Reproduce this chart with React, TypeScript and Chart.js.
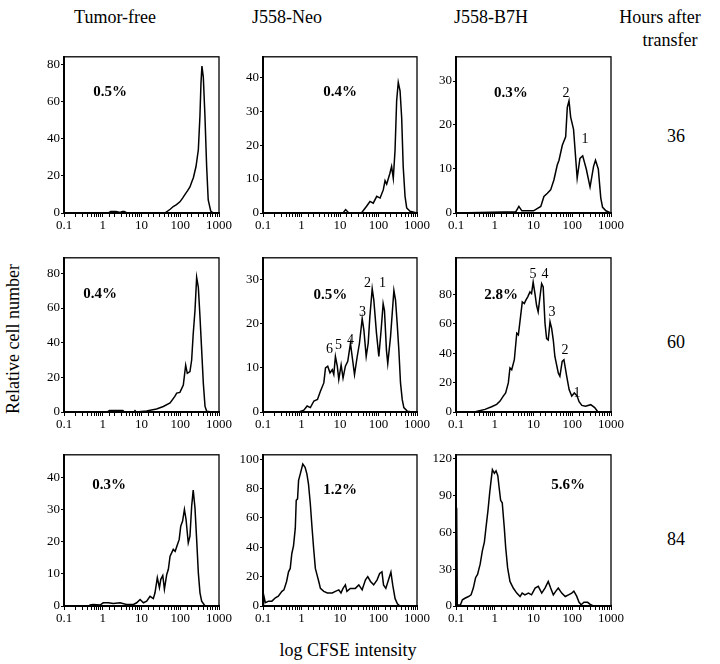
import React, { useEffect, useRef } from 'react';
import { Chart, registerables } from 'chart.js';

Chart.register(...registerables);

const FONT = '"Liberation Serif", "Times New Roman", serif';
Chart.defaults.font.family = FONT;

const columnTitles = ['Tumor-free', 'J558-Neo', 'J558-B7H'];
const hourLabels = ['36', '60', '84'];
const hoursTitle = ['Hours after', 'transfer'];
const xTickLabels = ['0.1', '1', '10', '100', '1000'];
const yTitle = 'Relative cell number';
const xTitle = 'log CFSE intensity';

// Row 1 (36 h)
const tumorFree36X = [0.1, 1.4, 1.6, 2.2, 2.8, 3.2, 3.6, 4.2, 40, 55, 66, 80, 98, 115, 133, 155, 178, 200, 218, 255, 293, 322, 343, 363, 394, 434, 480, 527, 612, 710, 1000];
const tumorFree36Y = [0, 0, 0.8, 0.8, 0.3, 0.8, 0.8, 0, 0, 2, 3.5, 4.5, 6, 8, 10, 12, 14, 17, 19, 25, 34, 52, 70, 79, 73, 52, 25, 7, 1, 0, 0];

const neo36X = [0.1, 12, 14, 17, 36, 49, 60, 73, 90, 110, 133, 148, 163, 198, 219, 242, 269, 296, 326, 363, 400, 438, 489, 540, 660, 1000];
const neo36Y = [0, 0, 1, 0, 0, 2, 3.4, 2.9, 4.9, 4.4, 6.8, 9.5, 8.5, 11.7, 13.7, 10.2, 18.5, 33, 38.5, 36, 28, 13.7, 4.9, 1.5, 0.5, 0];

const b7h36X = [0.1, 3.5, 4.2, 5, 10, 15.4, 18.6, 22.8, 27.7, 33.6, 41, 45.5, 55.4, 67.6, 74.5, 82.5, 91, 108, 134, 158, 186, 230, 288, 355, 398, 470, 545, 607, 740, 1000];
const b7h36Y = [0, 0.3, 1.5, 0.5, 0.5, 1.5, 3.75, 4.5, 5.25, 7.5, 10.9, 12, 15.4, 17.3, 24, 25.5, 21.8, 19, 7.9, 12.4, 13, 10, 5.9, 10.6, 12, 10, 3.4, 1.3, 0.5, 0];

// Row 2 (60 h)
const tumorFree60X = [0.1, 1.3, 1.5, 3.3, 3.6, 6.4, 6.8, 7.3, 13.5, 24.5, 36.6, 54.6, 72.5, 81, 98, 120, 138, 152, 178, 197, 216, 240, 265, 293, 323, 357, 394, 436, 482, 645, 1000];
const tumorFree60Y = [0, 0, 0.8, 0.8, 0, 0, 0.8, 0, 0.6, 1.7, 3.2, 5.2, 9, 10.9, 11.3, 15.6, 27, 22.3, 23.3, 30, 45, 58.6, 77.7, 72, 55, 35.7, 16.6, 3.2, 0.4, 0, 0];

const neo60X = [0.1, 0.85, 1.15, 1.4, 1.7, 2.1, 2.6, 3.1, 3.8, 4.2, 4.8, 5.5, 6.3, 6.9, 7.6, 8.5, 9.3, 10.7, 12, 13.8, 15.9, 18.7, 20.7, 23.8, 28, 32, 37.7, 41.7, 47.9, 54, 59.6, 68.6, 75.6, 88.6, 102, 117, 132, 143, 161, 174, 205, 251, 277, 306, 338, 373, 413, 455, 558, 755, 1000];
const neo60Y = [0, 0, 0.4, 1.35, 1, 2.5, 2.85, 4.7, 6.6, 10, 10.4, 8.9, 9.6, 8.5, 12.6, 10.4, 7.4, 10.7, 7.7, 10.4, 11.5, 15.6, 12.6, 8.5, 12.6, 15.6, 21.2, 18.6, 12.6, 15.6, 21.6, 28, 25.4, 17.9, 12.6, 18.6, 24.6, 23, 14, 11, 17, 27.6, 25.4, 20, 14, 6.6, 2.85, 1, 0.2, 0, 0];

const b7h60X = [0.1, 0.3, 0.38, 0.56, 0.83, 1.12, 1.37, 1.66, 1.91, 2.24, 2.47, 2.74, 3.2, 3.7, 4.07, 4.47, 5.14, 5.8, 6.3, 7.1, 8.1, 8.9, 9.8, 10.9, 12, 13.2, 14.7, 16.2, 17.8, 19.8, 21.8, 24, 26.7, 29.4, 32.4, 35.6, 43.6, 48, 55, 61, 72, 83, 97, 113, 133, 150, 177, 220, 300, 380, 460, 1000];
const b7h60Y = [0, 0, 0.7, 1.8, 3.6, 5.2, 7.4, 10.8, 13, 19.8, 30, 28.8, 35.6, 53.6, 52.5, 61.5, 75, 73.9, 76, 78.4, 81.8, 80.6, 88.5, 80.6, 72.7, 68.2, 78.4, 87.4, 85.1, 60.4, 50, 49, 61.5, 57, 49, 37.8, 26.6, 24.3, 34.5, 35.6, 24.3, 15.3, 10.8, 13, 11, 7, 4.5, 4, 5, 3, 0, 0];

// Row 3 (84 h)
const tumorFree84X = [0.1, 0.45, 0.47, 0.57, 0.85, 1.03, 1.39, 1.88, 2.8, 4.1, 6.2, 7.5, 9.2, 11.2, 13.6, 16.6, 20.2, 22.3, 25.6, 29, 31.5, 35.4, 39, 44.8, 49.3, 54.6, 60, 66, 74, 83, 94, 103, 115, 128, 141, 161, 178, 197, 216, 240, 265, 293, 323, 357, 436, 1000];
const tumorFree84Y = [0, 0, 0.3, 0.5, 0.3, 1, 1, 0.8, 1, 0.5, 0.5, 1, 2, 1, 1.5, 3, 2.3, 4.1, 8.8, 5.7, 8.3, 9.5, 5.2, 9.8, 11.4, 15.5, 16.5, 17.6, 17, 18.8, 20.7, 24.8, 26.4, 30, 26.9, 19.6, 21.7, 31, 36, 30.5, 20.7, 10.3, 4.1, 1.5, 0, 0];

const neo84X = [0.103, 0.103, 0.115, 0.14, 0.17, 0.21, 0.25, 0.31, 0.35, 0.41, 0.46, 0.51, 0.56, 0.62, 0.69, 0.73, 0.79, 0.84, 0.93, 1.08, 1.24, 1.38, 1.52, 1.69, 1.87, 2.07, 2.29, 2.54, 2.81, 3.1, 3.8, 4.7, 6.3, 7.6, 9.3, 10.6, 12, 13.8, 15.1, 18.5, 25, 30.8, 37.6, 45.9, 52.6, 62, 75, 92, 107, 123, 135, 155, 183, 210, 235, 270, 310, 360, 1000];
const neo84Y = [0, 8, 2.2, 3.3, 3.3, 5.6, 6.7, 10, 11, 16.7, 23.3, 25.6, 35.6, 41, 53, 72, 73, 85.6, 90, 96.7, 94.4, 90, 83, 70, 54, 39, 25.6, 21, 16.7, 12, 10, 8.9, 8.9, 10, 11, 8.9, 12, 14.4, 10, 12, 12, 14.4, 11, 17.8, 20, 16.7, 14.4, 17.8, 22.2, 23.3, 14.4, 12, 18, 23, 14, 5, 1.5, 0, 0];

const b7h84X = [0.104, 0.104, 0.108, 0.13, 0.146, 0.17, 0.21, 0.245, 0.28, 0.32, 0.36, 0.42, 0.48, 0.54, 0.59, 0.67, 0.74, 0.81, 0.87, 0.98, 1.08, 1.2, 1.29, 1.42, 1.56, 1.76, 1.91, 2.15, 2.47, 3.0, 3.7, 4.5, 5.1, 6, 7.4, 8.9, 11, 13.3, 16.3, 19.8, 24, 27.7, 32.5, 37.4, 43.6, 53.5, 66, 80, 97, 110, 130, 150, 170, 200, 250, 300, 350, 1000];
const b7h84Y = [0, 80, 0.8, 0.8, 5, 6.3, 7.7, 9.1, 14.6, 23, 25.7, 34, 45, 52, 63, 78, 92, 103, 111, 108, 110, 106, 97, 86, 84, 64, 48, 31, 20, 14.6, 10.5, 7.7, 10.5, 9.1, 10.5, 9.1, 14.6, 16, 10.5, 14.6, 20, 14.6, 9.1, 11.9, 14.6, 10.5, 7.7, 9.1, 10.5, 12, 8, 3, 1, 3, 3, 1, 0, 0];

type Note = { text: string; x: number; y: number; bold?: boolean };
type PanelDef = {
  row: number; col: number; xs: number[]; ys: number[];
  yMax: number; step: number; labelMax: number; notes: Note[];
};

const panels: PanelDef[] = [
  { row: 0, col: 0, xs: tumorFree36X, ys: tumorFree36Y, yMax: 84, step: 20, labelMax: 80,
    notes: [{ text: '0.5%', x: 1.54, y: 65, bold: true }] },
  { row: 0, col: 1, xs: neo36X, ys: neo36Y, yMax: 46, step: 10, labelMax: 40,
    notes: [{ text: '0.4%', x: 10, y: 35.6, bold: true }] },
  { row: 0, col: 2, xs: b7h36X, ys: b7h36Y, yMax: 35.5, step: 10, labelMax: 30,
    notes: [{ text: '0.3%', x: 2.6, y: 27.3, bold: true }, { text: '2', x: 69, y: 27.3 }, { text: '1', x: 214, y: 16.7 }] },
  { row: 1, col: 0, xs: tumorFree60X, ys: tumorFree60Y, yMax: 89, step: 20, labelMax: 80,
    notes: [{ text: '0.4%', x: 0.85, y: 67.8, bold: true }] },
  { row: 1, col: 1, xs: neo60X, ys: neo60Y, yMax: 35, step: 10, labelMax: 30,
    notes: [
      { text: '0.5%', x: 5.6, y: 26.6, bold: true },
      { text: '6', x: 5.3, y: 14.3 }, { text: '5', x: 9.1, y: 15.2 }, { text: '4', x: 18.7, y: 16.3 },
      { text: '3', x: 38.4, y: 22.6 }, { text: '2', x: 51.6, y: 29.3 }, { text: '1', x: 127, y: 29.3 },
    ] },
  { row: 1, col: 2, xs: b7h60X, ys: b7h60Y, yMax: 105, step: 20, labelMax: 80,
    notes: [
      { text: '2.8%', x: 1.45, y: 79.7, bold: true },
      { text: '5', x: 9.7, y: 94 }, { text: '4', x: 19.8, y: 94 }, { text: '3', x: 30, y: 67.6 },
      { text: '2', x: 65, y: 41.9 }, { text: '1', x: 133, y: 12.8 },
    ] },
  { row: 2, col: 0, xs: tumorFree84X, ys: tumorFree84Y, yMax: 47, step: 10, labelMax: 40,
    notes: [{ text: '0.3%', x: 1.45, y: 37.5, bold: true }] },
  { row: 2, col: 1, xs: neo84X, ys: neo84Y, yMax: 103, step: 20, labelMax: 100,
    notes: [{ text: '1.2%', x: 10, y: 79, bold: true }] },
  { row: 2, col: 2, xs: b7h84X, ys: b7h84Y, yMax: 123, step: 30, labelMax: 120,
    notes: [{ text: '5.6%', x: 78, y: 98, bold: true }] },
];

const colLeft = [64, 263, 456];
const colWidth = [155, 154, 155];
const rowTop = [56, 257, 454];
const rowHeight = [157, 155, 152];
const PAD_L = 40;
const PAD_R = 18;
const PAD_T = 8;
const PAD_B = 26;

const framePlugin = {
  id: 'frame',
  afterDraw(chart: any) {
    const { ctx, chartArea } = chart;
    ctx.save();
    ctx.strokeStyle = '#000';
    ctx.lineWidth = 1.3;
    ctx.strokeRect(chartArea.left, chartArea.top, chartArea.right - chartArea.left, chartArea.bottom - chartArea.top);
    ctx.restore();
  },
};

const notesPlugin = {
  id: 'notes',
  afterDatasetsDraw(chart: any, _args: any, opts: any) {
    const { ctx } = chart;
    const xs = chart.scales.x;
    const ys = chart.scales.y;
    (opts.items || []).forEach((n: Note) => {
      ctx.save();
      ctx.font = n.bold ? `bold 15px ${FONT}` : `14px ${FONT}`;
      ctx.fillStyle = '#000';
      ctx.textAlign = 'center';
      ctx.textBaseline = 'middle';
      ctx.fillText(n.text, xs.getPixelForValue(n.x), ys.getPixelForValue(n.y));
      ctx.restore();
    });
  },
};

function Panel({ p }: { p: PanelDef }) {
  const ref = useRef<HTMLCanvasElement>(null);
  const w = colWidth[p.col] + PAD_L + PAD_R;
  const h = rowHeight[p.row] + PAD_T + PAD_B;
  useEffect(() => {
    const chart = new Chart(ref.current as HTMLCanvasElement, {
      type: 'scatter',
      data: {
        datasets: [{
          data: p.xs.map((x, i) => ({ x, y: p.ys[i] })),
          showLine: true,
          borderColor: '#000',
          borderWidth: 1.5,
          pointRadius: 0,
          tension: 0,
          fill: false,
        }],
      },
      options: {
        animation: false,
        responsive: false,
        devicePixelRatio: 1,
        layout: { padding: { left: 0, right: PAD_R, top: PAD_T, bottom: 0 } },
        plugins: {
          legend: { display: false },
          tooltip: { enabled: false },
          notes: { items: p.notes },
        } as any,
        scales: {
          x: {
            type: 'logarithmic',
            min: 0.1,
            max: 1000,
            grid: { drawOnChartArea: false, drawTicks: true, tickLength: 4, color: '#000' },
            border: { display: true, color: '#000', width: 2 },
            ticks: {
              autoSkip: false,
              maxRotation: 0,
              color: '#000',
              padding: 1,
              font: { family: FONT, size: 13 },
              callback: (v: any) => {
                const e = Math.log10(Number(v));
                const r = Math.round(e);
                return Math.abs(e - r) < 1e-6 ? xTickLabels[r + 1] : '';
              },
            },
            afterFit: (s: any) => { s.height = PAD_B; },
          },
          y: {
            type: 'linear',
            min: 0,
            max: p.yMax,
            grid: { drawOnChartArea: false, drawTicks: true, tickLength: 3, color: '#000' },
            border: { display: true, color: '#000', width: 2 },
            ticks: {
              autoSkip: false,
              color: '#000',
              padding: 1,
              font: { family: FONT, size: 13 },
            },
            afterBuildTicks: (s: any) => {
              const t: any[] = [];
              for (let v = 0; v <= p.labelMax + 1e-9; v += p.step) t.push({ value: v });
              s.ticks = t;
            },
            afterFit: (s: any) => { s.width = PAD_L; },
          },
        } as any,
      },
      plugins: [framePlugin, notesPlugin],
    } as any);
    return () => chart.destroy();
  }, []);
  return (
    <canvas
      ref={ref}
      width={w}
      height={h}
      style={{ position: 'absolute', left: colLeft[p.col] - PAD_L, top: rowTop[p.row] - PAD_T, width: w, height: h }}
    />
  );
}

const textStyle = (x: number, y: number, size: number, extra: any = {}) => ({
  position: 'absolute' as const,
  left: x,
  top: y,
  transform: 'translate(-50%, -50%)',
  fontFamily: FONT,
  fontSize: size,
  lineHeight: 1,
  whiteSpace: 'nowrap' as const,
  color: '#000',
  ...extra,
});

const titleX = [115, 287, 491];
const hourY = [136, 342, 539];

export default function App() {
  return (
    <div style={{ position: 'absolute', left: 0, top: 0, width: 720, height: 664, background: '#fff', overflow: 'hidden' }}>
      {columnTitles.map((t, i) => (
        <div key={t} style={textStyle(titleX[i], 17, 18)}>{t}</div>
      ))}
      <div style={textStyle(660, 17, 18)}>{hoursTitle[0]}</div>
      <div style={textStyle(670, 40, 18)}>{hoursTitle[1]}</div>
      {hourLabels.map((t, i) => (
        <div key={t} style={textStyle(676, hourY[i], 18)}>{t}</div>
      ))}
      <div style={textStyle(13, 339, 18, { transform: 'translate(-50%, -50%) rotate(-90deg)' })}>{yTitle}</div>
      <div style={textStyle(348, 650, 18)}>{xTitle}</div>
      {panels.map((p) => (
        <Panel key={`${p.row}-${p.col}`} p={p} />
      ))}
    </div>
  );
}
